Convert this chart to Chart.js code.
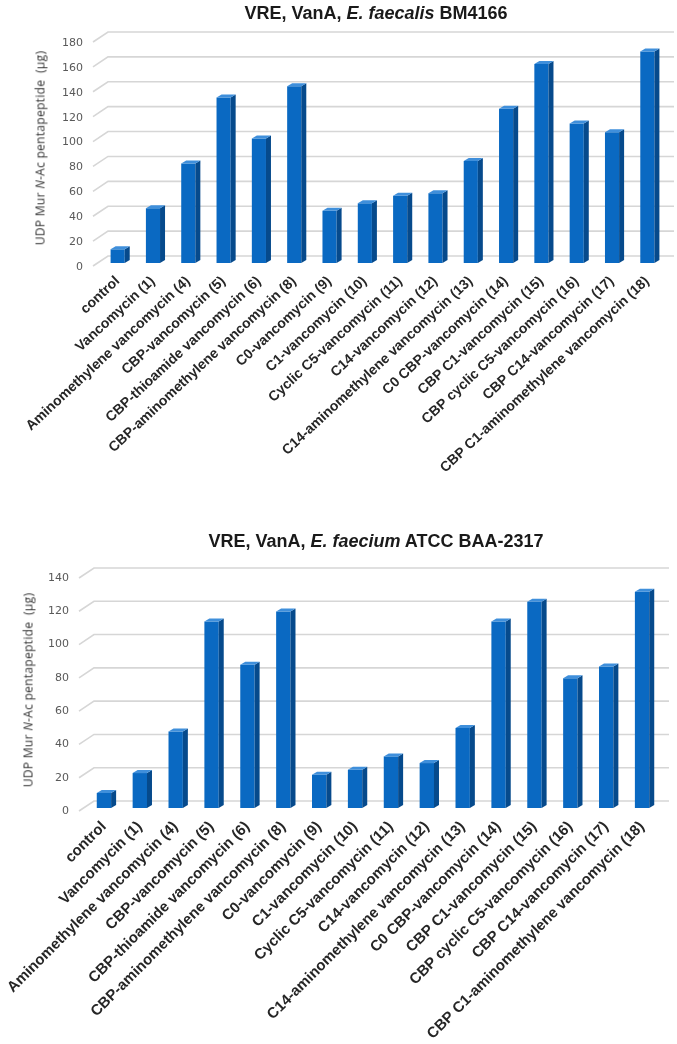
<!DOCTYPE html>
<html>
<head>
<meta charset="utf-8">
<script src="https://cdn.jsdelivr.net/npm/chart.js@4"></script>
<style>
  body { margin: 0; background: #fff; }
  #page { position: relative; width: 677px; height: 1044px; overflow: hidden; }
  .box { position: absolute; left: 0; width: 677px; }
  .title { position: absolute; transform: translate(-50%, -50%); white-space: nowrap;
           font: bold 18px "Liberation Sans", Arial, sans-serif; color: #1a1a1a; }
  .ytitle { position: absolute; transform: translate(-50%, -50%) rotate(-90deg); white-space: nowrap;
            font-family: "Open Sans", sans-serif; font-size: 12px; font-weight: normal;
            letter-spacing: 0.3px; color: #333; }
</style>
</head>
<body>
<div id="page">
  <div class="box" style="top:0;height:520px">
    <canvas id="chartA" width="677" height="520"></canvas>
    <div class="title" style="left:376px;top:13px">VRE, VanA, <i>E. faecalis</i> BM4166</div>
    <div class="ytitle" style="left:40px;top:148px">UDP Mur <i>N</i>-Ac pentapeptide &nbsp;(µg)</div>
  </div>
  <div class="box" style="top:520px;height:524px">
    <canvas id="chartB" width="677" height="524"></canvas>
    <div class="title" style="left:376px;top:21px">VRE, VanA, <i>E. faecium</i> ATCC BAA-2317</div>
    <div class="ytitle" style="left:28px;top:170px">UDP Mur <i>N</i>-Ac pentapeptide &nbsp;(µg)</div>
  </div>
</div>
<script>
// noms des composes (axe x)
var categories = [
  'control', 'Vancomycin (1)', 'Aminomethylene vancomycin (4)', 'CBP-vancomycin (5)',
  'CBP-thioamide vancomycin (6)', 'CBP-aminomethylene vancomycin (8)', 'C0-vancomycin (9)',
  'C1-vancomycin (10)', 'Cyclic C5-vancomycin (11)', 'C14-vancomycin (12)',
  'C14-aminomethylene vancomycin (13)', 'C0 CBP-vancomycin (14)', 'CBP C1-vancomycin (15)',
  'CBP cyclic C5-vancomycin (16)', 'CBP C14-vancomycin (17)', 'CBP C1-aminomethylene vancomycin (18)'
];
// E. faecalis BM4166
var faecalisValues = [11, 44, 80, 133, 100, 142, 42, 48, 54, 56, 82, 124, 160, 112, 105, 170];
var faecalisMax = 180;
// E. faecium ATCC BAA-2317
var faeciumValues = [9, 21, 46, 112, 86, 118, 20, 23, 31, 27, 48, 112, 124, 78, 85, 130];
var faeciumMax = 140;
var tickStep = 20;

var frontColor = '#0a69c2';
var sideColor = '#064a8c';
var topColor = '#3f8fdb';
var gridColor = '#d6d6d6';

// lignes de grille sur le "mur du fond" (effet 3D)
var backWall = {
  id: 'backWall',
  beforeDatasetsDraw: function(chart) {
    var y = chart.scales.y, a = chart.chartArea, c = chart.ctx;
    c.save();
    c.strokeStyle = gridColor;
    c.lineWidth = 1.6;
    y.ticks.forEach(function(t) {
      var py = y.getPixelForValue(t.value);
      c.beginPath();
      c.moveTo(a.left - 7, py + 3);
      c.lineTo(a.left + 8, py - 7);
      c.lineTo(a.right + 9, py - 7);
      c.stroke();
    });
    c.restore();
  }
};

// faces laterales et dessus des barres
var bar3d = {
  id: 'bar3d',
  afterDatasetsDraw: function(chart) {
    var c = chart.ctx, dx = 5, dy = 3;
    chart.getDatasetMeta(0).data.forEach(function(b) {
      var l = b.x - b.width / 2, r = b.x + b.width / 2;
      c.fillStyle = sideColor;
      c.beginPath();
      c.moveTo(r, b.y); c.lineTo(r + dx, b.y - dy); c.lineTo(r + dx, b.base - dy); c.lineTo(r, b.base);
      c.closePath(); c.fill();
      c.fillStyle = topColor;
      c.beginPath();
      c.moveTo(l, b.y); c.lineTo(l + dx, b.y - dy); c.lineTo(r + dx, b.y - dy); c.lineTo(r, b.y);
      c.closePath(); c.fill();
    });
  }
};

var makeChart = function(id, values, max, top, left, right, xHeight, labelOffset, labelSize, rot) {
  var ctx = document.getElementById(id).getContext('2d');
  return new Chart(ctx, {
    type: 'bar',
    data: {
      labels: categories,
      datasets: [{
        data: values,
        backgroundColor: frontColor,
        barPercentage: 0.40,
        categoryPercentage: 1.0
      }]
    },
    options: {
      responsive: false,
      animation: false,
      devicePixelRatio: 1,
      layout: { padding: { top: top, left: 0, right: right, bottom: 0 } },
      plugins: { legend: { display: false }, tooltip: { enabled: false } },
      scales: {
        x: {
          grid: { display: false, drawTicks: false },
          border: { display: false },
          ticks: {
            autoSkip: false, minRotation: rot, maxRotation: rot, padding: 10,
            color: '#262626', font: { family: 'Liberation Sans', size: labelSize, weight: 'bold' }
          },
          afterFit: function(s) { s.height = xHeight; }
        },
        y: {
          min: 0, max: max,
          grid: { display: false, drawTicks: false },
          border: { display: false },
          ticks: {
            stepSize: tickStep, padding: 17, labelOffset: labelOffset,
            color: '#595959', font: { family: 'DejaVu Sans', size: 11 }
          },
          afterFit: function(s) { s.width = left; }
        }
      }
    },
    plugins: [backWall, bar3d]
  });
};

window.onload = function() {
  window.chartA = makeChart('chartA', faecalisValues, faecalisMax, 39, 100, 12, 257, 4, 14, 43);
  window.chartB = makeChart('chartB', faeciumValues, faeciumMax, 55, 86, 17, 236, 3, 15, 45);
};
</script>
</body>
</html>
